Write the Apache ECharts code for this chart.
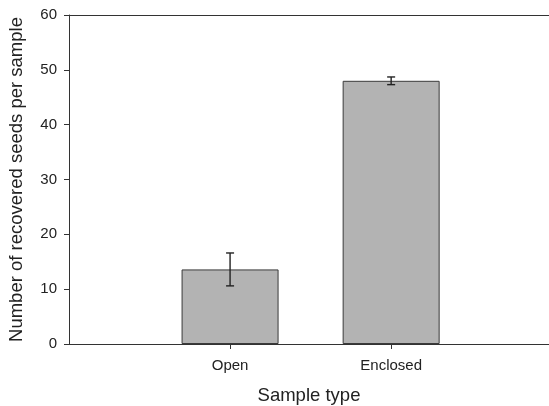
<!DOCTYPE html>
<html>
<head>
<meta charset="utf-8">
<script src="https://cdn.jsdelivr.net/npm/echarts@6/dist/echarts.min.js"></script>
<style>
html,body{margin:0;padding:0;background:#fff;}
#chart{width:549px;height:406px;}
</style>
</head>
<body>
<div id="chart"></div>
<script>
const categories = ['Open', 'Enclosed'];
const positions = [1, 2];
const means = [13.6, 48.0];
const errors = [3.0, 0.7];
const yTicks = [0, 10, 20, 30, 40, 50, 60];

const chart = echarts.init(document.getElementById('chart'), null, {renderer: 'canvas'});
const font = '"Liberation Sans", Arial, sans-serif';

const barData = positions.map((p, i) => [p, means[i]]);
const errData = positions.map((p, i) => [p, means[i] - errors[i], means[i] + errors[i]]);

chart.setOption({
  animation: false,
  backgroundColor: '#fff',
  grid: {left: 69, right: 0, top: 15, bottom: 62, containLabel: false, outerBoundsMode: 'none'},
  xAxis: [{
    type: 'value', min: 0, max: 2.98,
    name: 'Sample type', nameLocation: 'middle', nameGap: 42,
    nameTextStyle: {fontFamily: font, fontSize: 18.5, color: '#222'},
    axisLine: {show: true, lineStyle: {color: '#333', width: 1}},
    axisTick: {show: true, length: 5, customValues: positions, lineStyle: {color: '#333'}},
    axisLabel: {
      customValues: positions, margin: 14,
      fontFamily: font, fontSize: 15, color: '#222',
      formatter: v => categories[positions.indexOf(v)] || ''
    },
    splitLine: {show: false}
  }, {
    type: 'value', min: 0, max: 2.98, position: 'top',
    axisLine: {show: true, onZero: false, lineStyle: {color: '#333', width: 1}},
    axisTick: {show: false}, axisLabel: {show: false}, splitLine: {show: false}
  }],
  yAxis: {
    type: 'value', min: 0, max: 60, interval: 10,
    name: 'Number of recovered seeds per sample', nameLocation: 'middle', nameGap: 43,
    nameTextStyle: {fontFamily: font, fontSize: 18.5, color: '#222'},
    axisLine: {show: true, lineStyle: {color: '#333', width: 1}},
    axisTick: {show: true, length: 5, lineStyle: {color: '#333'}},
    axisLabel: {margin: 12, fontFamily: font, fontSize: 15, color: '#222',
      formatter: v => yTicks.includes(v) ? String(v) : ''},
    splitLine: {show: false}
  },
  series: [
    {
      type: 'bar',
      data: barData,
      barWidth: 97,
      itemStyle: {color: '#b3b3b3', borderColor: '#3a3a3a', borderWidth: 1}
    },
    {
      type: 'custom',
      data: errData,
      z: 10,
      renderItem: function (params, api) {
        const x = api.value(0);
        const lo = api.coord([x, api.value(1)]);
        const hi = api.coord([x, api.value(2)]);
        const hw = 4;
        const style = {stroke: '#222', lineWidth: 1.4};
        return {
          type: 'group',
          children: [
            {type: 'line', shape: {x1: lo[0], y1: lo[1], x2: hi[0], y2: hi[1]}, style: style},
            {type: 'line', shape: {x1: lo[0] - hw, y1: lo[1], x2: lo[0] + hw, y2: lo[1]}, style: style},
            {type: 'line', shape: {x1: hi[0] - hw, y1: hi[1], x2: hi[0] + hw, y2: hi[1]}, style: style}
          ]
        };
      }
    }
  ]
});
</script>
</body>
</html>
